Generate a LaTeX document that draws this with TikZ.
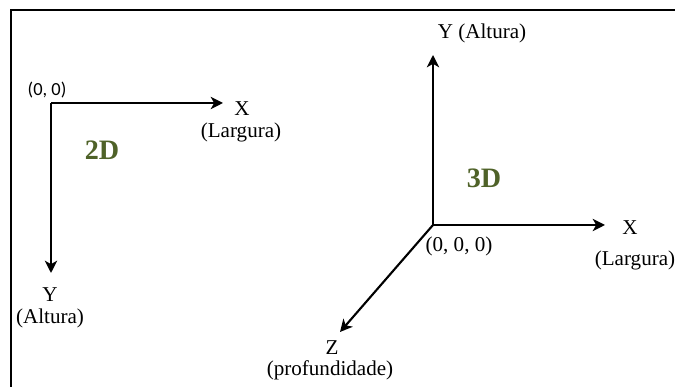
\documentclass[tikz,border=0pt]{standalone}
\usepackage{fontspec}
\setmainfont{Liberation Serif}
\newfontfamily\calfont{Carlito}
\usepackage{xcolor}
\usetikzlibrary{arrows.meta,positioning}
\definecolor{axOlive}{HTML}{4F6228}
\tikzset{
    >=Stealth,
    axis/.style={-{Stealth[length=7pt,width=7pt,inset=2pt]}, line width=1.2pt, draw=black},
    frameline/.style={line width=1.1pt, draw=black},
    lbl/.style={font=\fontsize{12}{14}\selectfont, inner sep=0pt},
    origlbl/.style={font=\calfont\fontsize{10.5}{12}\selectfont, inner sep=0pt},
    dimtag/.style={font=\fontsize{16}{18}\selectfont\bfseries, text=axOlive, inner sep=0pt}
}
\begin{document}
\begin{tikzpicture}
\useasboundingbox (0,0) rectangle (13.5,7.74);
% frame (top and left only)
\coordinate (fTL) at (0.22,7.54);
\draw[frameline] (0.22,0) -- (fTL) -- (13.5,7.54);

% 2D axes
\coordinate (o2) at (1.02,5.68);
\coordinate (x2) at (4.46,5.68);
\coordinate (y2) at (1.02,2.28);
\draw[axis] (o2) -- (x2);
\draw[axis] (o2) -- (y2);
\node[origlbl] (o2lbl) at (0.94,5.94) {(0, 0)};
\node[lbl] (x2lbl) at (4.84,5.56) {X};
\node[lbl] (x2sub) at (4.82,5.10) {(Largura)};
\node[lbl] (y2lbl) at (1.0,1.84) {Y};
\node[lbl] (y2sub) at (1.0,1.38) {(Altura)};
\node[dimtag] (tag2) at (2.04,4.74) {2D};

% 3D axes
\coordinate (o3) at (8.66,3.24);
\coordinate (x3) at (12.1,3.24);
\coordinate (y3) at (8.66,6.64);
\coordinate (z3) at (6.8,1.1);
\draw[axis] (o3) -- (y3);
\draw[axis] (o3) -- (x3);
\draw[axis] (o3) -- (z3);
\node[lbl] (y3lbl) at (9.64,7.08) {Y (Altura)};
\node[lbl] (x3lbl) at (12.6,3.18) {X};
\node[lbl] (x3sub) at (12.7,2.54) {(Largura)};
\node[lbl] (o3lbl) at (9.18,2.82) {(0, 0, 0)};
\node[lbl] (z3lbl) at (6.64,0.78) {Z};
\node[lbl] (z3sub) at (6.6,0.34) {(profundidade)};
\node[dimtag] (tag3) at (9.68,4.18) {3D};
\end{tikzpicture}
\end{document}
